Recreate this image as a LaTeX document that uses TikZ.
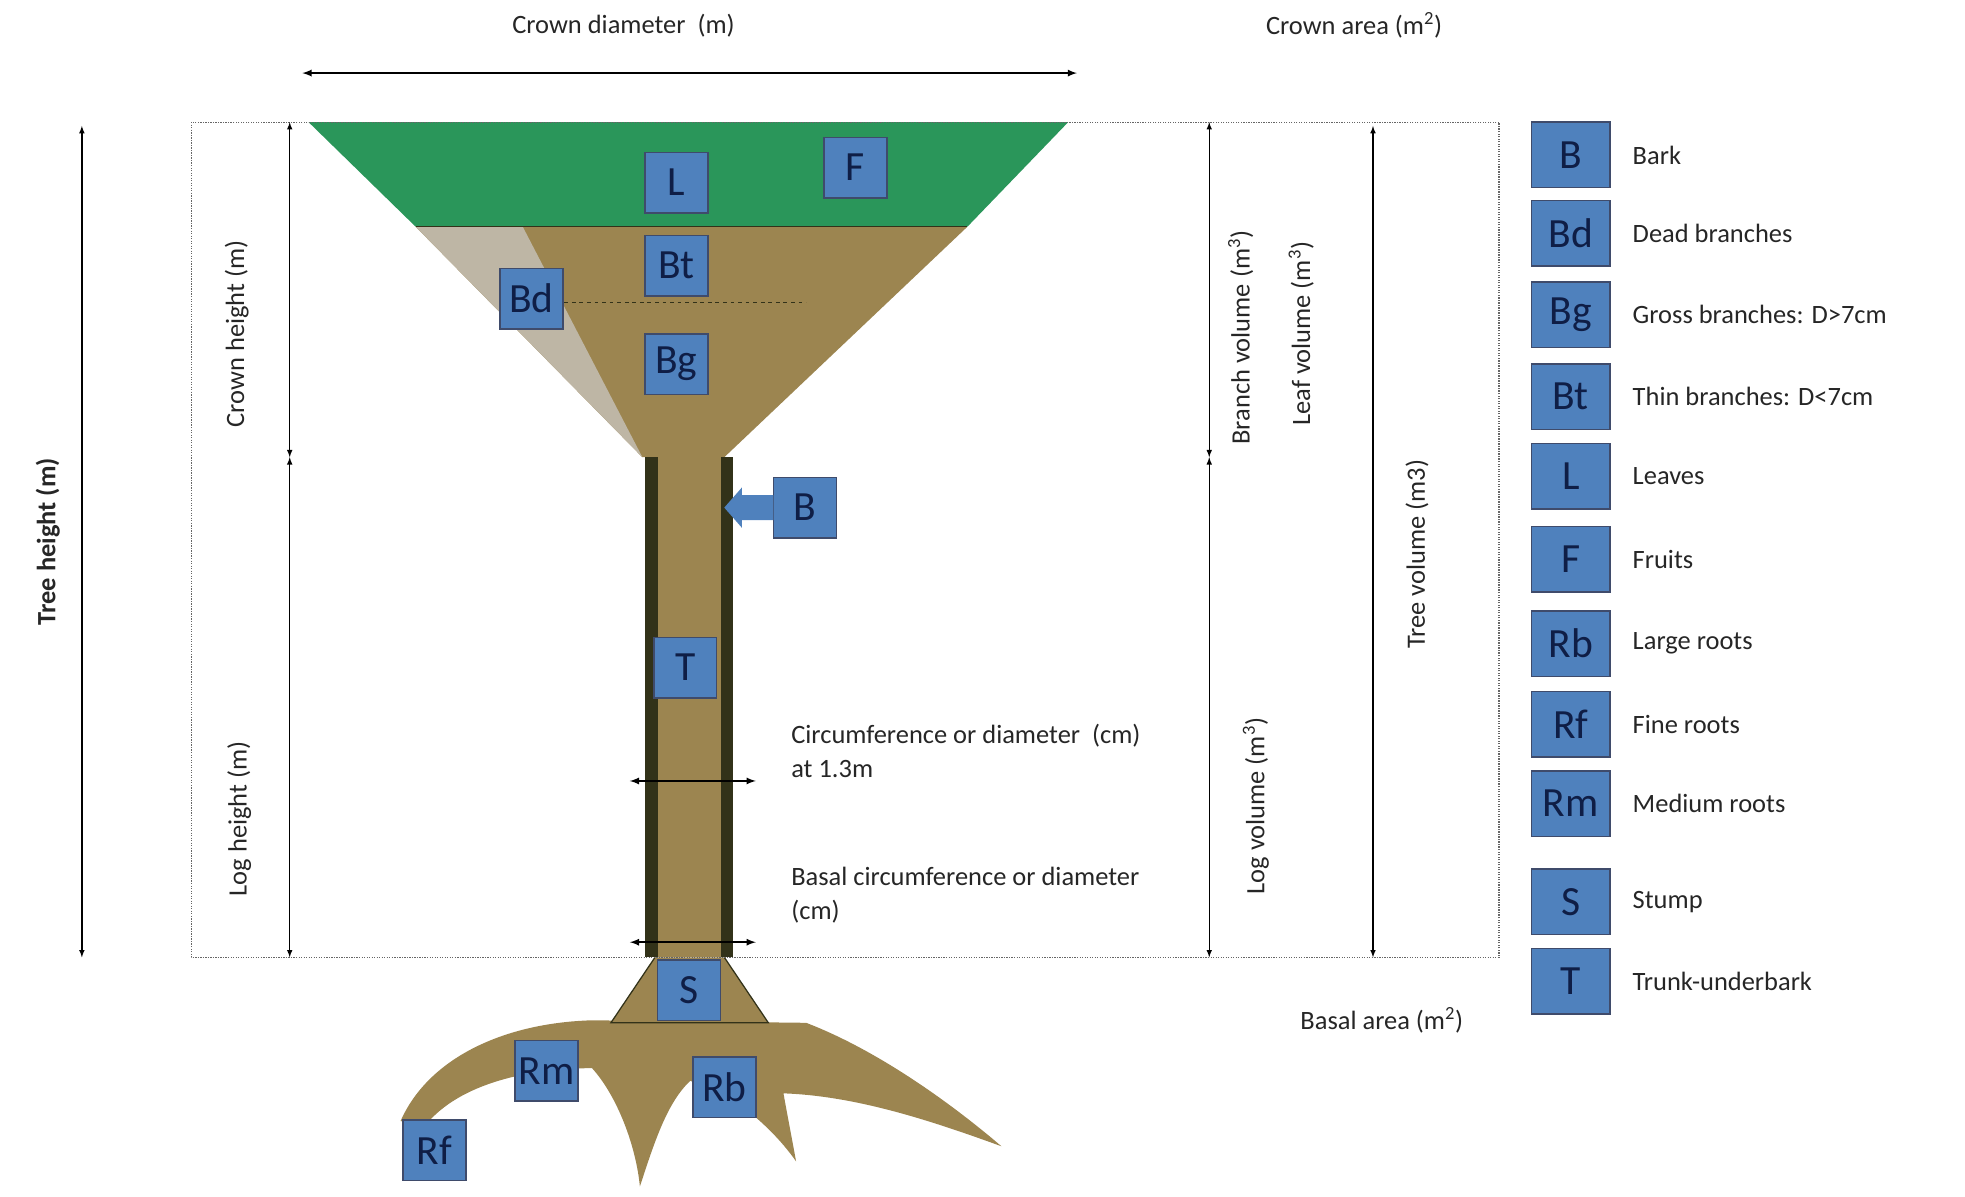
\documentclass[tikz,border=0pt]{standalone}
\usepackage{fontspec}
\setmainfont{Carlito}
\definecolor{bl}{RGB}{79,129,189}
\definecolor{bltxt}{RGB}{15,30,70}
\definecolor{brn}{RGB}{156,133,80}
\definecolor{grn}{RGB}{42,150,90}
\definecolor{dk}{RGB}{50,50,25}
\definecolor{gry}{RGB}{190,182,165}
\begin{document}
\begin{tikzpicture}[x=1pt,y=-1pt,
  box/.style={draw=bltxt!80,line width=1.2pt,fill=bl,minimum width=50pt,minimum height=48pt,inner sep=0pt,font=\fontsize{33}{33}\selectfont,text=bltxt},
  lbox/.style={box,minimum width=62pt,minimum height=52pt},
  lab/.style={font=\fontsize{21}{23}\selectfont,text=black!85,inner sep=0pt},
  dim/.style={<->,>=latex,line width=1pt},
  dimb/.style={<->,>=latex,line width=1.5pt}]
\useasboundingbox (0,0) rectangle (1560,950);
% crown
\fill[grn] (245,97) -- (848,97) -- (768,180) -- (330,180) -- cycle;
\fill[brn] (330,180) -- (768,180) -- (575,363) -- (510,363) -- cycle;
\fill[gry] (330,180) -- (415,180) -- (510,363) -- cycle;
\draw[dk,line width=0.8pt] (330,180) -- (768,180);
\draw[dk,dashed,line width=0.6pt] (430,240) -- (640,240);
% trunk
\fill[brn] (512,363) rectangle (582,760);
\fill[dk] (512,363) rectangle (522,760);
\fill[dk] (572,363) rectangle (582,760);
% stump
\fill[brn] (520,760) -- (575,760) -- (610,812) -- (485,812) -- cycle;
% roots
\fill[brn] (470,810) .. controls (400,812) and (340,840) .. (318,890) -- (338,893)
  .. controls (365,860) and (420,848) .. (470,848) .. controls (490,870) and (505,910) .. (508,942)
  .. controls (520,905) and (530,875) .. (548,858) -- (585,875) .. controls (605,890) and (620,905) .. (632,922)
  .. controls (628,900) and (625,885) .. (622,868) .. controls (680,870) and (740,890) .. (795,910)
  .. controls (760,880) and (700,835) .. (640,812) -- cycle;
\draw[dk,line width=1pt] (520,760) -- (485,812) -- (610,812) -- (575,760);
% dotted frame
\draw[densely dotted,black!60,line width=1pt] (152,97) rectangle (1190,760);
% dimensions
\draw[dimb] (240,58) -- (855,58);
\node[lab] at (495,20) {Crown diameter\ \ (m)};
\node[lab] at (1075,20) {Crown area (m\textsuperscript{2})};
\draw[dim] (65,100) -- (65,760);
\node[lab,rotate=90,font=\fontsize{21}{23}\selectfont\bfseries] at (38,430) {Tree height (m)};
\coordinate (ct) at (230,97); \coordinate (cm) at (230,363); \coordinate (cb) at (230,760);
\draw[dim] (ct) -- (cm); \draw[dim] (cm) -- (cb);
\node[lab,rotate=90] at (188,265) {Crown height (m)};
\node[lab,rotate=90] at (190,650) {Log height (m)};
\coordinate (vt) at (960,97); \coordinate (vm) at (960,363); \coordinate (vb) at (960,760);
\draw[dim] (vt) -- (vm); \draw[dim] (vm) -- (vb);
\node[lab,rotate=90] at (985,268) {Branch volume (m\textsuperscript{3})};
\node[lab,rotate=90] at (1033,265) {Leaf volume (m\textsuperscript{3})};
\node[lab,rotate=90] at (997,640) {Log volume (m\textsuperscript{3})};
\draw[dim] (1090,100) -- (1090,760);
\node[lab,rotate=90] at (1125,440) {Tree volume (m3)};
\node[lab] at (1097,810) {Basal area (m\textsuperscript{2})};
\draw[dimb] (500,620) -- (600,620);
\draw[dimb] (500,748) -- (600,748);
\node[lab,anchor=west,align=left] at (628,596) {Circumference or diameter\ \ (cm)\\[4pt]at 1.3m};
\node[lab,anchor=west,align=left] at (628,711) {Basal circumference or diameter\\[4pt](cm)};
% boxes on tree
\node[box] (L) at (537,145) {L};
\node[box] (F) at (679,133) {F};
\node[box] (Bt) at (537,211) {Bt};
\node[box] (Bd) at (422,237) {Bd};
\node[box] (Bg) at (537,289) {Bg};
\node[box] (B) at (639,403) {B};
\fill[bl] (614,393) -- (589,393) -- (589,387) -- (575,403) -- (589,419) -- (589,413) -- (614,413) -- cycle;
\node[box] (T) at (544,530) {T};
\node[box] (S) at (547,786) {S};
\node[box] (Rm) at (434,850) {Rm};
\node[box] (Rb) at (575,863) {Rb};
\node[box] (Rf) at (345,913) {Rf};
% legend
\foreach \n/\t/\y in {B/Bark/123,Bd/Dead branches/185,Bg/{Gross branches: D>7cm}/250,Bt/{Thin branches: D<7cm}/315,L/Leaves/378,F/Fruits/444,Rb/Large roots/511,Rf/Fine roots/575,Rm/Medium roots/638,S/Stump/716,T/Trunk-underbark/779}{
  \node[lbox] (k\n) at (1247,\y) {\n};
  \node[lab,anchor=west] at (1296,\y) {\t};
}
\end{tikzpicture}
\end{document}
